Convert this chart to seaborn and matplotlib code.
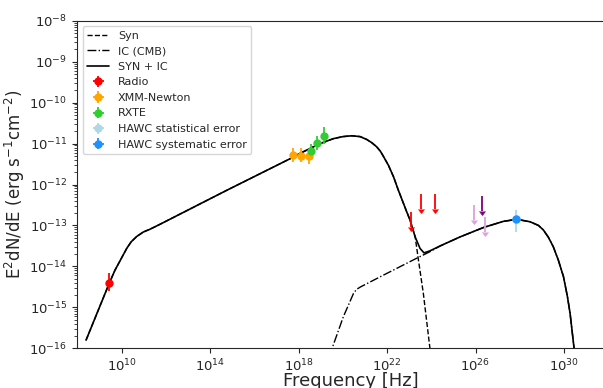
import numpy as np
import pandas as pd
import matplotlib
matplotlib.use("Agg")
import matplotlib.pyplot as plt
import matplotlib.ticker as mticker
import seaborn as sns

# model curves (log10 frequency, log10 E^2dN/dE)
syn_logx = [8.38, 9.43, 9.69, 10.22, 10.42, 10.67, 10.97, 11.28, 11.73, 14.75, 17.76, 18.06, 18.97,
            19.57, 20.00, 20.40, 20.78, 21.08, 21.31, 21.53, 21.70, 21.83, 22.06, 22.29, 22.51, 22.74, 22.89,
            23.04, 23.27, 23.42, 23.64, 24.05]
syn_logy = [-15.80, -14.41, -14.09, -13.56, -13.40, -13.27, -13.16, -13.09, -12.97, -12.14, -11.33, -11.24, -11.00,
            -10.88, -10.83, -10.81, -10.83, -10.90, -10.98, -11.08, -11.19, -11.31, -11.53, -11.81, -12.14, -12.46, -12.67,
            -12.87, -13.28, -13.85, -14.66, -16.5]

ic_logx = [19.38, 20.02, 20.48, 20.62, 20.80, 21.99, 23.34, 23.94, 24.40, 25.30, 26.36, 27.26,
           27.87, 28.47, 28.85, 29.07, 29.30, 29.52, 29.75, 29.98, 30.16, 30.28, 30.46, 30.52]
ic_logy = [-16.2, -15.23, -14.66, -14.56, -14.50, -14.17, -13.80, -13.64, -13.50, -13.28, -13.05, -12.90,
           -12.85, -12.91, -13.00, -13.11, -13.29, -13.52, -13.85, -14.25, -14.74, -15.15, -16.0, -16.5]

tot_logx = [8.38, 9.43, 9.69, 10.22, 10.42, 10.67, 10.97, 11.28, 11.73, 14.75, 17.76, 18.06, 18.97,
            19.57, 20.00, 20.40, 20.78, 21.08, 21.31, 21.53, 21.70, 21.83, 22.06, 22.29, 22.51, 22.74, 22.89,
            23.04, 23.27, 23.49, 23.67, 23.94, 24.40, 25.30, 26.36, 27.26, 27.87, 28.47, 28.85,
            29.07, 29.30, 29.52, 29.75, 29.98, 30.16, 30.28, 30.46, 30.52]
tot_logy = [-15.80, -14.41, -14.09, -13.56, -13.40, -13.27, -13.16, -13.09, -12.97, -12.14, -11.33, -11.24, -11.00,
            -10.88, -10.83, -10.81, -10.83, -10.90, -10.98, -11.08, -11.19, -11.31, -11.53, -11.81, -12.14, -12.46, -12.67,
            -12.87, -13.28, -13.56, -13.67, -13.62, -13.50, -13.28, -13.05, -12.90, -12.85, -12.91, -13.00,
            -13.11, -13.29, -13.52, -13.85, -14.25, -14.74, -15.15, -16.0, -16.5]

# data points (log10 values): centre, lower, upper
radio_x = [9.43]
radio_y = [-14.41]
radio_lo = [-14.61]
radio_hi = [-14.17]

xmm_x = [17.73, 18.09, 18.46]
xmm_y = [-11.285, -11.30, -11.31]
xmm_lo = [-11.45, -11.45, -11.49]
xmm_hi = [-11.10, -11.10, -11.16]

rxte_x = [18.55, 18.85, 19.16]
rxte_y = [-11.17, -10.98, -10.81]
rxte_lo = [-11.34, -11.16, -11.02]
rxte_hi = [-11.00, -10.81, -10.60]

hawc_x = [27.84]
hawc_y = [-12.83]
hawc_stat_lo = [-13.16]
hawc_stat_hi = [-12.63]
hawc_sys_lo = [-12.88]
hawc_sys_hi = [-12.78]

# upper limits (log10 x, log10 y of the top of the arrow)
ul_red_x = [23.07, 23.52, 24.17]
ul_red_y = [-12.67, -12.23, -12.23]
ul_pink_x = [25.95, 26.43]
ul_pink_y = [-12.50, -12.79]
ul_purple_x = [26.28]
ul_purple_y = [-12.28]
ul_len = 0.37  # arrow length in dex


def curve_df(lx, ly):
    return pd.DataFrame({"nu": 10.0 ** np.array(lx), "flux": 10.0 ** np.array(ly)})


def add_points(ax, lx, ly, lo, hi, color, label):
    x = 10.0 ** np.array(lx)
    y = 10.0 ** np.array(ly)
    yerr = [y - 10.0 ** np.array(lo), 10.0 ** np.array(hi) - y]
    ax.errorbar(x, y, yerr=yerr, xerr=np.zeros_like(x), fmt='o', color=color,
                ecolor=color, markersize=5, elinewidth=1.3, label=label)


def add_limits(ax, lx, ly, color):
    x = 10.0 ** np.array(lx)
    top = 10.0 ** np.array(ly)
    bottom = 10.0 ** (np.array(ly) - ul_len)
    _, caps, _ = ax.errorbar(x, top, yerr=top - bottom, uplims=True, fmt='none',
                             ecolor=color, elinewidth=1.3, capsize=0)
    for c in caps:
        c.set_markersize(4)
        c.set_markeredgecolor(color)
        c.set_markerfacecolor(color)
        c.set_markeredgewidth(0.5)


sns.set_style("ticks")
plt.rcParams['font.family'] = ['DejaVu Sans']

fig = plt.figure(figsize=(6.03, 3.88), dpi=100)
# the right spine falls outside the saved picture, as in the reference
ax = fig.add_axes([0.1277, 0.1023, 0.909, 0.8443])
ax.set_xscale('log')
ax.set_yscale('log')

sns.lineplot(data=curve_df(syn_logx, syn_logy), x="nu", y="flux", ax=ax, color='black',
             linestyle='--', linewidth=1.0, estimator=None, sort=False, label='Syn')
sns.lineplot(data=curve_df(ic_logx, ic_logy), x="nu", y="flux", ax=ax, color='black',
             linestyle='-.', linewidth=1.0, estimator=None, sort=False, label='IC (CMB)')
sns.lineplot(data=curve_df(tot_logx, tot_logy), x="nu", y="flux", ax=ax, color='black',
             linestyle='-', linewidth=1.2, estimator=None, sort=False, label='SYN + IC')

add_points(ax, radio_x, radio_y, radio_lo, radio_hi, 'red', 'Radio')
add_points(ax, xmm_x, xmm_y, xmm_lo, xmm_hi, 'orange', 'XMM-Newton')
add_points(ax, rxte_x, rxte_y, rxte_lo, rxte_hi, 'limegreen', 'RXTE')
add_points(ax, hawc_x, hawc_y, hawc_stat_lo, hawc_stat_hi, 'lightblue', 'HAWC statistical error')
add_points(ax, hawc_x, hawc_y, hawc_sys_lo, hawc_sys_hi, 'dodgerblue', 'HAWC systematic error')

add_limits(ax, ul_red_x, ul_red_y, 'red')
add_limits(ax, ul_pink_x, ul_pink_y, 'plum')
add_limits(ax, ul_purple_x, ul_purple_y, 'purple')

ax.set_xlim(10 ** 7.97, 10 ** 32.77)
ax.set_ylim(1e-16, 1e-8)
ax.set_xticks([1e10, 1e14, 1e18, 1e22, 1e26, 1e30])
ax.xaxis.set_minor_locator(mticker.NullLocator())
ax.yaxis.set_major_locator(mticker.LogLocator(base=10, numticks=20))
ax.yaxis.set_minor_locator(mticker.LogLocator(base=10, subs=np.arange(2, 10), numticks=20))
ax.set_xlabel('Frequency [Hz]', fontsize=13, labelpad=-2)
ax.set_ylabel(r'E$^2$dN/dE (erg s$^{-1}$cm$^{-2}$)', fontsize=12, labelpad=2)
ax.tick_params(labelsize=9.5)

ax.legend(loc='upper left', fontsize=8)

fig.savefig('out.png', dpi=100, facecolor='white')
